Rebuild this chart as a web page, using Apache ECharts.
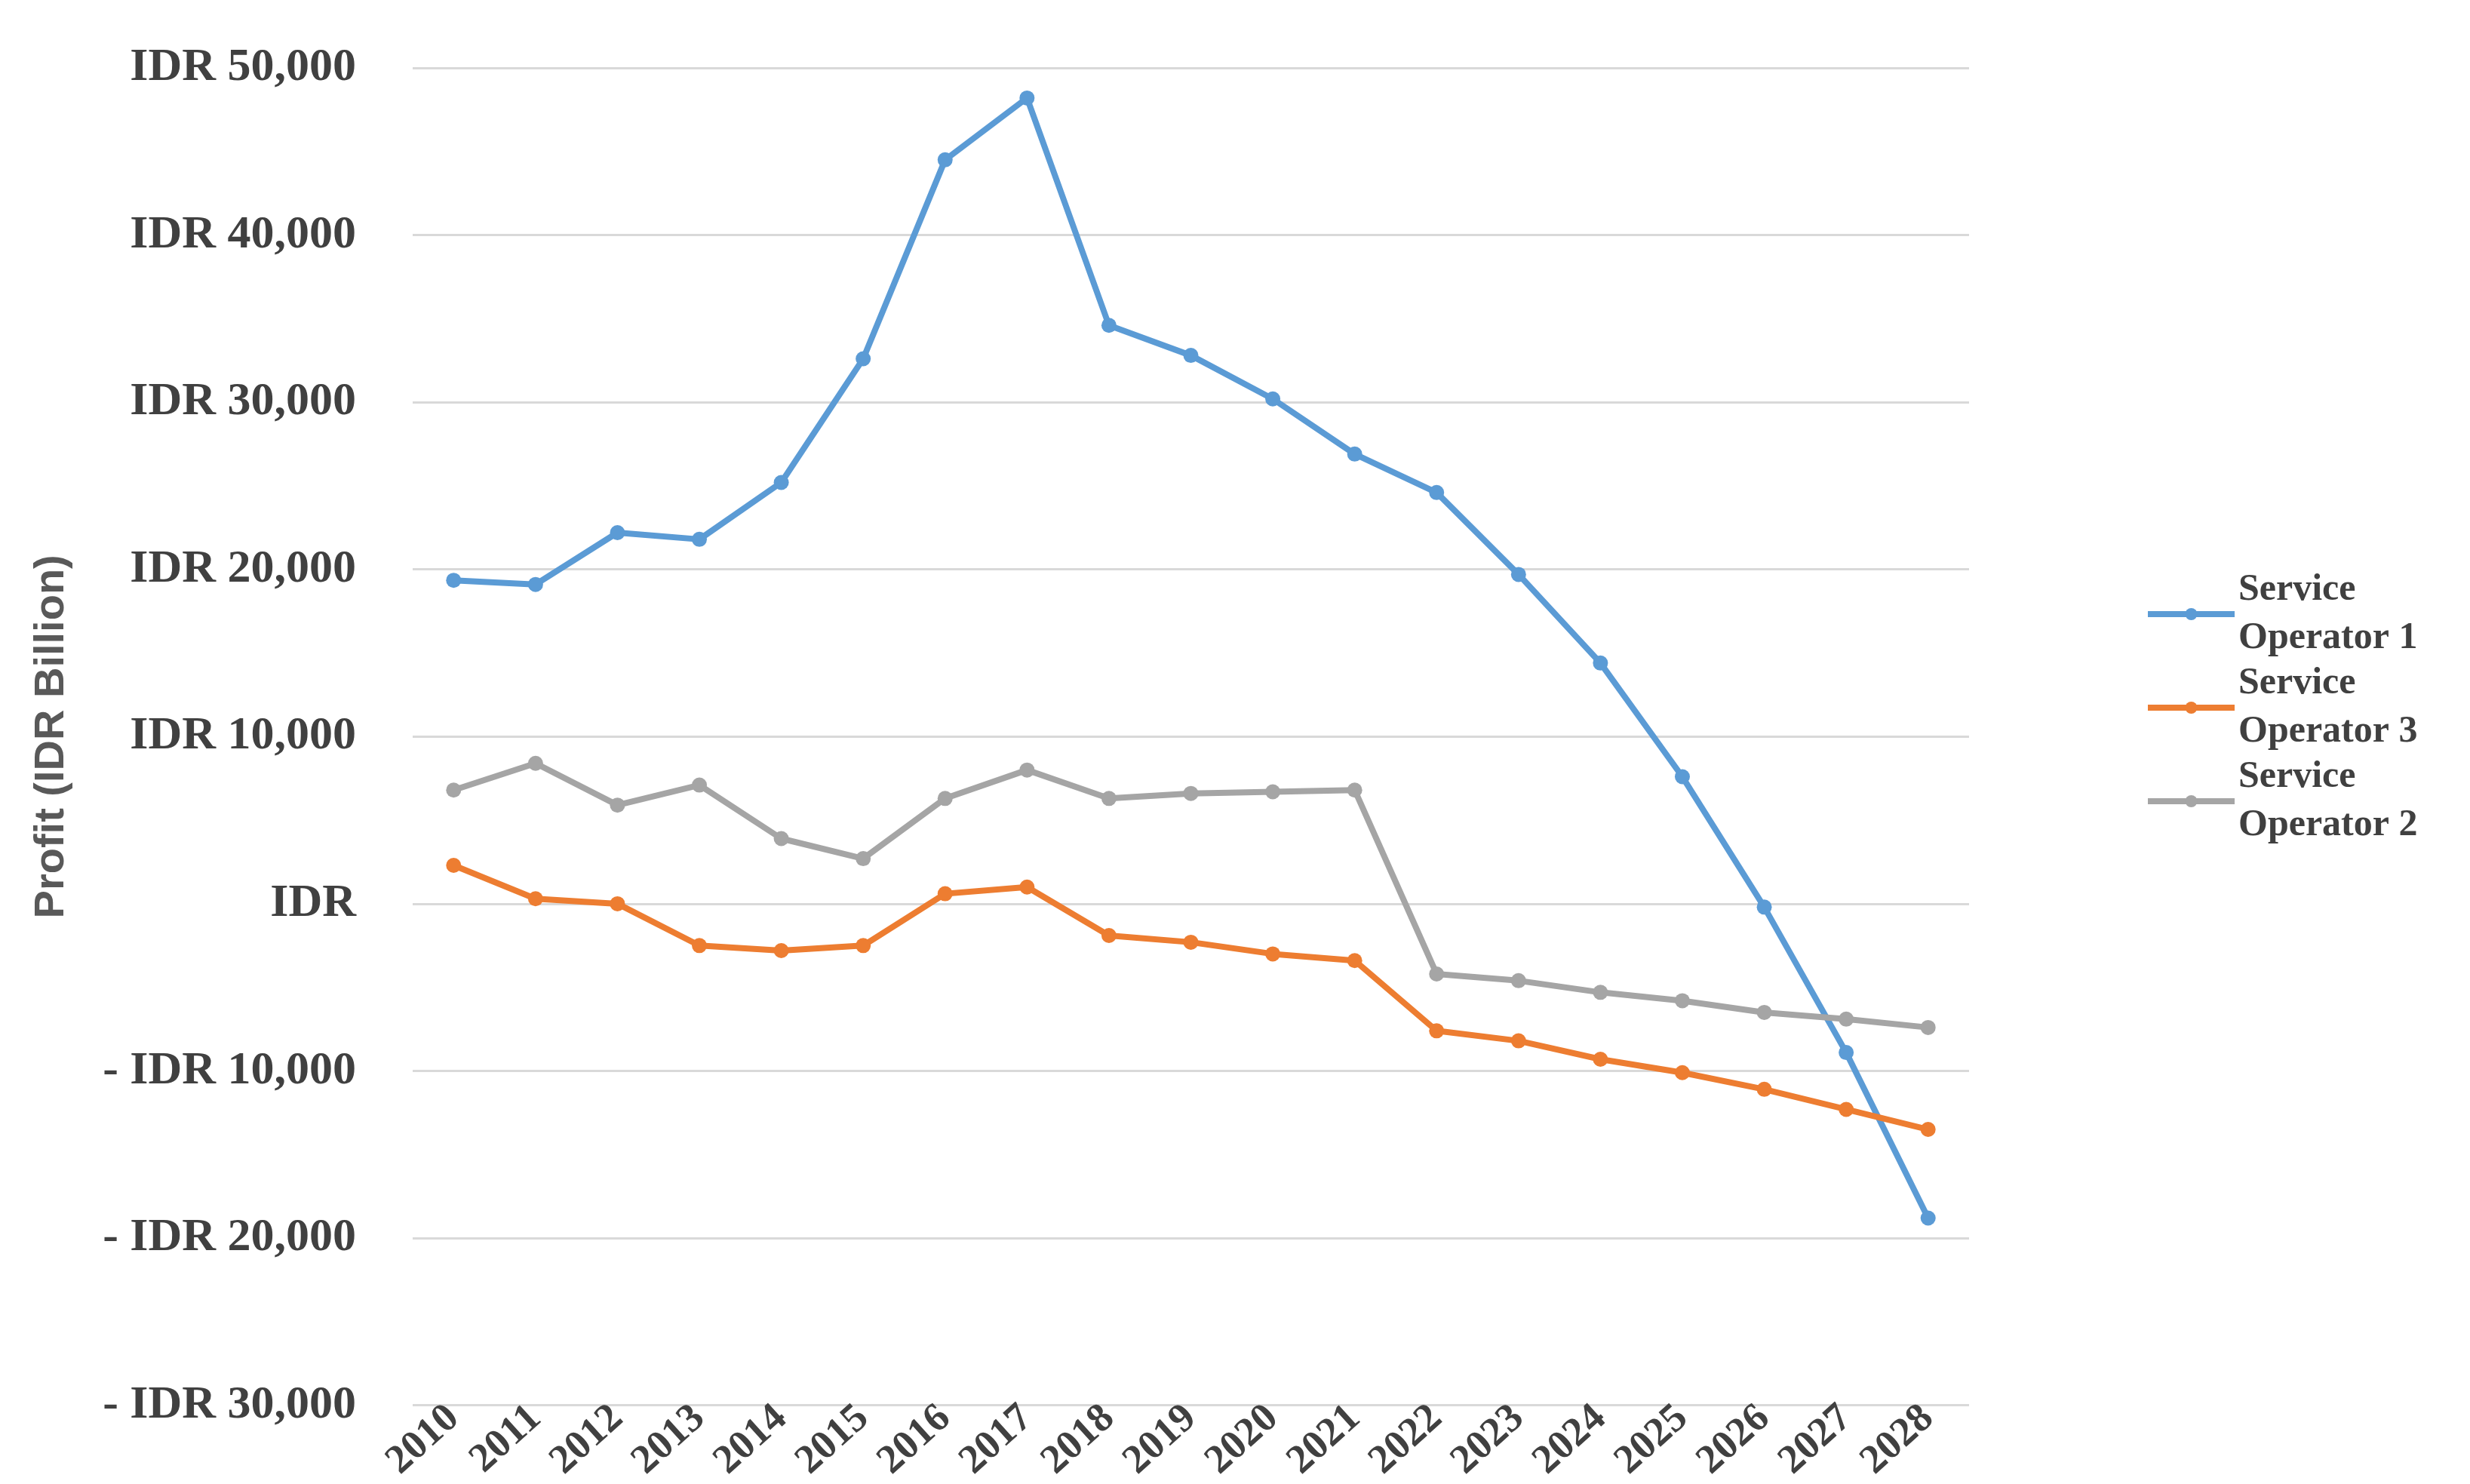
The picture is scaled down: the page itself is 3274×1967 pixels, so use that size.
<!DOCTYPE html>
<html><head><meta charset="utf-8">
<script src="https://cdn.jsdelivr.net/npm/echarts@6/dist/echarts.min.js"></script>
<style>html,body{margin:0;padding:0;background:#fff}#c{width:3274px;height:1967px}</style>
</head><body><div id="c"></div>
<script>
const years = ['2010','2011','2012','2013','2014','2015','2016','2017','2018','2019','2020','2021','2022','2023','2024','2025','2026','2027','2028'];
const op1 = [19350,19100,22200,21800,25200,32600,44500,48200,34600,32800,30200,26900,24600,19700,14400,7600,-200,-8900,-18800];
const op3 = [2300,300,0,-2500,-2800,-2500,600,1000,-1900,-2300,-3000,-3400,-7600,-8200,-9300,-10100,-11100,-12300,-13500];
const op2 = [6800,8400,5900,7100,3900,2700,6300,8000,6300,6600,6700,6800,-4200,-4600,-5300,-5800,-6500,-6900,-7400];
const names = ['Service\nOperator 1','Service\nOperator 3','Service\nOperator 2'];
const colors = ['#5B9BD5','#ED7D31','#A5A5A5'];
const chart = echarts.init(document.getElementById('c'));
const fmt = v => v === 0 ? 'IDR' : (v < 0 ? '- IDR ' : 'IDR ') + Math.abs(v).toLocaleString('en-US');
const mk = (n, d, c) => ({name:n, type:'line', data:d, symbol:'circle', symbolSize:20,
  itemStyle:{color:c}, lineStyle:{color:c, width:8}});
chart.setOption({
  animation:false,
  grid:{left:547, right:664, top:90, bottom:48},
  legend:{orient:'vertical', left:2838, top:745, itemGap:-4, itemWidth:115, itemHeight:20,
    lineStyle:{width:8},
    data:names, textStyle:{fontFamily:'Liberation Serif', fontWeight:'bold', fontSize:50, color:'#404040', lineHeight:64}},
  xAxis:{type:'category', data:years, boundaryGap:true,
    axisLine:{show:true, onZero:true, lineStyle:{color:'rgba(0,0,0,0)', width:0}}, axisTick:{show:false},
    axisLabel:{rotate:42, fontFamily:'Liberation Serif', fontWeight:'bold', fontSize:54, color:'#404040', margin:10}},
  yAxis:{type:'value', min:-30000, max:50000, interval:10000,
    name:'Profit (IDR Billion)', nameLocation:'middle', nameGap:450,
    nameTextStyle:{fontFamily:'Liberation Sans', fontWeight:'bold', fontSize:56, color:'#595959'},
    axisLine:{show:false}, axisTick:{show:false},
    splitLine:{lineStyle:{color:'#D9D9D9', width:3}},
    axisLabel:{formatter:fmt, fontFamily:'Liberation Serif', fontWeight:'bold', fontSize:62, color:'#404040', margin:75}},
  series:[mk(names[0],op1,colors[0]), mk(names[1],op3,colors[1]), mk(names[2],op2,colors[2])]
});
</script></body></html>
